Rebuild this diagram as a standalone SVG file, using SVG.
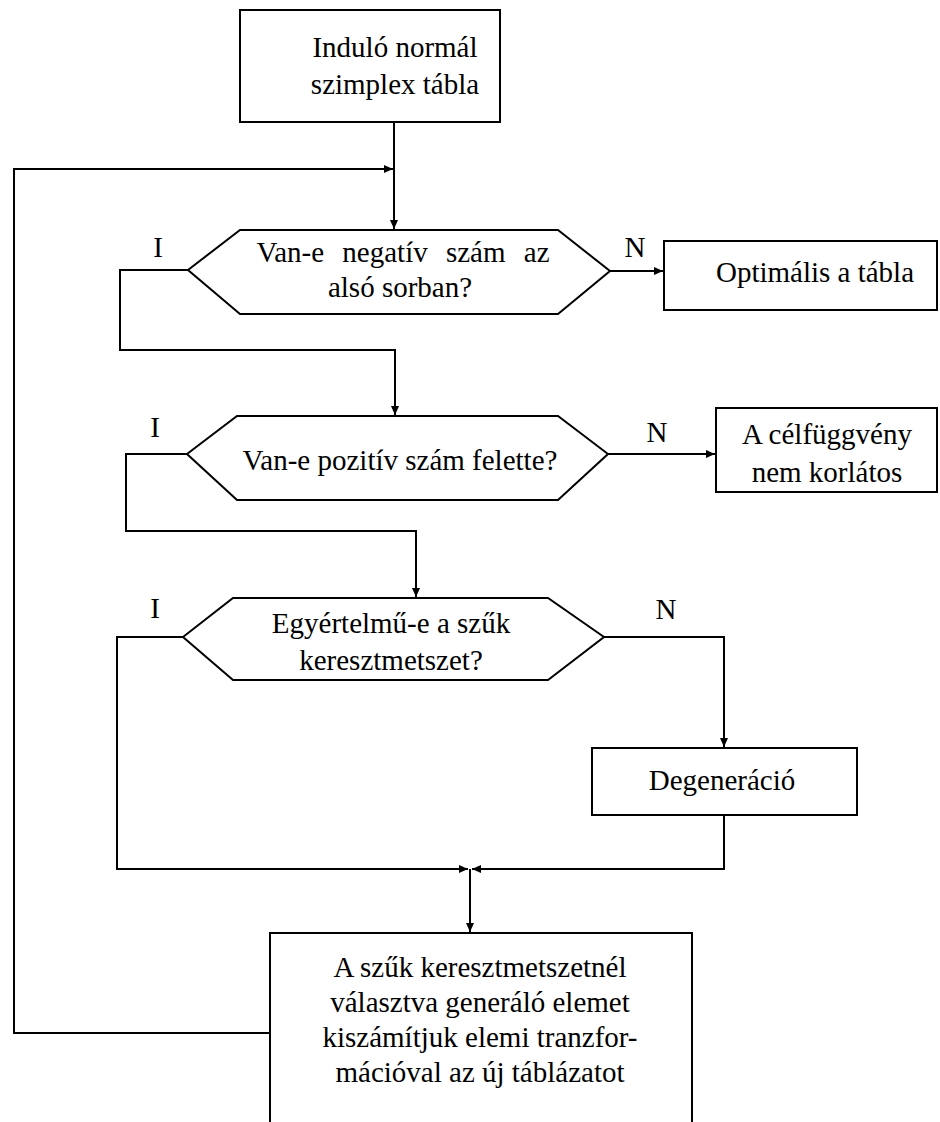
<svg xmlns="http://www.w3.org/2000/svg" width="940" height="1122" viewBox="0 0 940 1122">
<style>
.n{fill:#fff;stroke:#000;stroke-width:2}
.c{fill:none;stroke:#000;stroke-width:2}
.t{font-family:'Liberation Serif','DejaVu Serif',serif;font-size:29px;fill:#000;text-anchor:middle}
</style>
<defs>
<marker id="a" markerWidth="9" markerHeight="8" refX="9" refY="4" orient="auto" markerUnits="userSpaceOnUse">
<path d="M0,0 L9,4 L0,8 Z" fill="#000"/>
</marker>
</defs>
<rect width="940" height="1122" fill="#fff"/>
<g id="connectors">
<path class="c" d="M394,122 V229" marker-end="url(#a)"/>
<path class="c" d="M270,1033 H14 V169 H393" marker-end="url(#a)"/>
<path class="c" d="M610,271 H663" marker-end="url(#a)"/>
<path class="c" d="M188,270 H120 V350 H395 V415" marker-end="url(#a)"/>
<path class="c" d="M608,454 H715" marker-end="url(#a)"/>
<path class="c" d="M187,454 H126 V531 H416 V597" marker-end="url(#a)"/>
<path class="c" d="M604,637 H724 V747" marker-end="url(#a)"/>
<path class="c" d="M183,637 H117 V869 H468" marker-end="url(#a)"/>
<path class="c" d="M724,815 V869 H472" marker-end="url(#a)"/>
<path class="c" d="M470,869 V932" marker-end="url(#a)"/>
<text x="158" y="257" class="t">I</text>
<text x="635" y="257" class="t">N</text>
<text x="155" y="437" class="t">I</text>
<text x="657" y="442" class="t">N</text>
<text x="155" y="618" class="t">I</text>
<text x="666" y="619" class="t">N</text>
</g>
<g id="start">
<rect class="n" x="240" y="10" width="260" height="112"/>
<text x="395" y="57" class="t">Induló normál</text>
<text x="395" y="94" class="t">szimplex tábla</text>
</g>
<g id="dec1">
<polygon class="n" points="188,270 240,230 558,230 610,271 558,314 240,314"/>
<text x="403" y="262" class="t" word-spacing="11">Van-e negatív szám az</text>
<text x="400" y="297" class="t">alsó sorban?</text>
</g>
<g id="optimal">
<rect class="n" x="664" y="241" width="273" height="69"/>
<text x="815" y="282" class="t">Optimális a tábla</text>
</g>
<g id="dec2">
<polygon class="n" points="187,454 237,416 558,416 608,454 558,500 237,500"/>
<text x="400" y="470" class="t">Van-e pozitív szám felette?</text>
</g>
<g id="unbounded">
<rect class="n" x="716" y="408" width="221" height="84"/>
<text x="827" y="444" class="t">A célfüggvény</text>
<text x="827" y="482" class="t">nem korlátos</text>
</g>
<g id="dec3">
<polygon class="n" points="183,637 233,598 548,598 604,637 548,680 233,680"/>
<text x="391" y="633" class="t">Egyértelmű-e a szűk</text>
<text x="391" y="670" class="t">keresztmetszet?</text>
</g>
<g id="degen">
<rect class="n" x="592" y="748" width="265" height="67"/>
<text x="722" y="790" class="t">Degeneráció</text>
</g>
<g id="transform">
<path class="n" d="M270,1123 V933 H692 V1123"/>
<text x="480" y="977" class="t">A szűk keresztmetszetnél</text>
<text x="480" y="1012" class="t">választva generáló elemet</text>
<text x="480" y="1047" class="t">kiszámítjuk elemi tranzfor-</text>
<text x="480" y="1082" class="t">mációval az új táblázatot</text>
</g>
</svg>
